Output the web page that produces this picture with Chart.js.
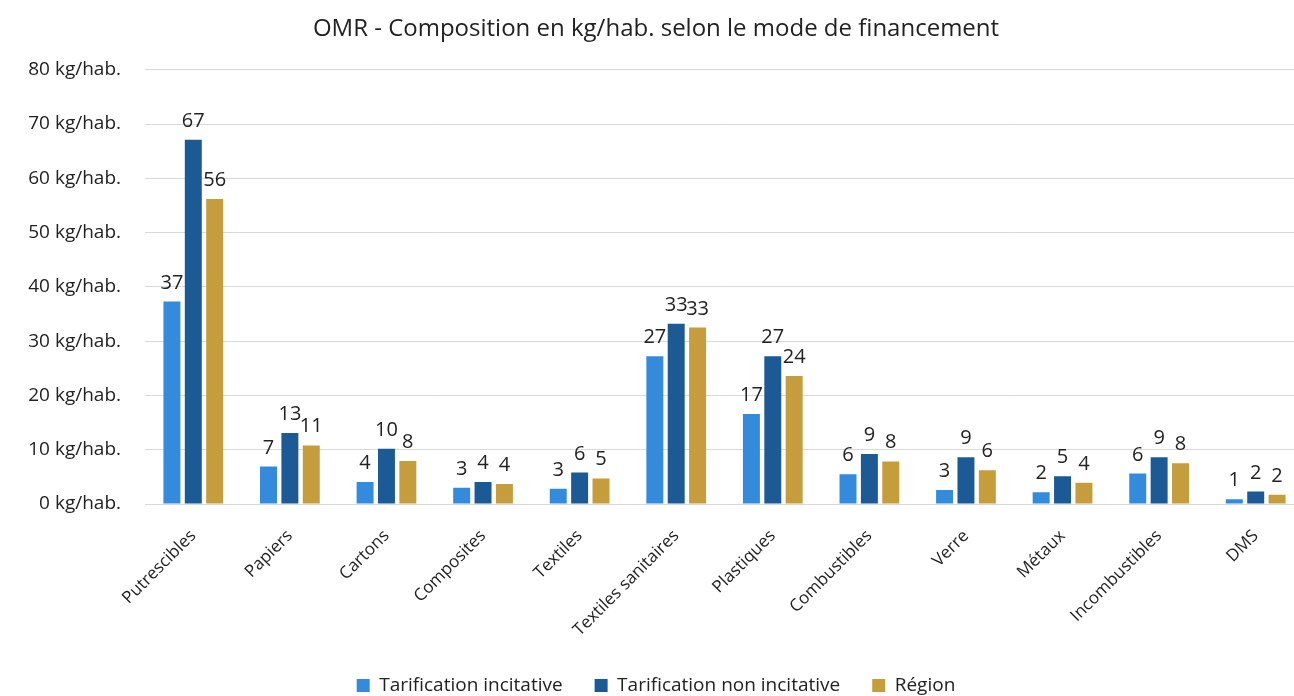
<!DOCTYPE html>
<html>
<head>
<meta charset="utf-8">
<script src="https://cdn.jsdelivr.net/npm/chart.js@4"></script>
<style>
  html, body { margin:0; padding:0; background:#fff; overflow:hidden; }
  #wrap { position:relative; width:1310px; height:696px; }
</style>
</head>
<body>
<div id="wrap"><canvas id="c" width="1310" height="696"></canvas></div>
<script>
const categories = ['Putrescibles','Papiers','Cartons','Composites','Textiles','Textiles sanitaires','Plastiques','Combustibles','Verre','Métaux','Incombustibles','DMS'];
const seriesNames = ['Tarification incitative','Tarification non incitative','Région'];
const incitative    = [37.3, 6.9, 4.05, 3.0, 2.8, 27.2, 16.6, 5.5, 2.6, 2.15, 5.6, 0.86];
const nonIncitative = [67.1, 13.1, 10.2, 4.05, 5.8, 33.2, 27.2, 9.2, 8.6, 5.1, 8.6, 2.3];
const region        = [56.2, 10.8, 7.9, 3.7, 4.7, 32.5, 23.6, 7.85, 6.2, 3.9, 7.5, 1.7];
const yTicks = [0,10,20,30,40,50,60,70,80];

const colors = ['#348BDC','#1C5A96','#C59D3C'];
const FONT = "'Open Sans'";
const TEXT = '#222222';

const labelPlugin = {
  id: 'barLabels',
  afterDatasetsDraw(chart) {
    const ctx = chart.ctx;
    ctx.save();
    ctx.font = '20px ' + FONT;
    ctx.fillStyle = TEXT;
    ctx.textAlign = 'center';
    ctx.textBaseline = 'alphabetic';
    chart.data.datasets.forEach((ds, i) => {
      const meta = chart.getDatasetMeta(i);
      meta.data.forEach((bar, j) => {
        ctx.fillText(String(Math.round(ds.data[j])), bar.x, bar.y - 13);
      });
    });
    ctx.restore();
  }
};

new Chart(document.getElementById('c'), {
  type: 'bar',
  data: {
    labels: categories,
    datasets: [
      { label: seriesNames[0], data: incitative, backgroundColor: colors[0] },
      { label: seriesNames[1], data: nonIncitative, backgroundColor: colors[1] },
      { label: seriesNames[2], data: region, backgroundColor: colors[2] }
    ]
  },
  options: {
    responsive: false,
    animation: false,
    layout: { padding: { left: 8, right: 6, top: 0, bottom: -9 } },
    datasets: { bar: { categoryPercentage: 0.664, barPercentage: 0.794 } },
    plugins: {
      title: {
        display: true,
        text: 'OMR - Composition en kg/hab. selon le mode de financement',
        color: TEXT,
        font: { family: FONT, size: 24, weight: 'normal' },
        padding: { top: 15, bottom: 26 }
      },
      legend: {
        position: 'bottom',
        labels: {
          color: TEXT,
          font: { family: FONT, size: 19 },
          boxWidth: 13, boxHeight: 13,
          padding: 32
        }
      },
      tooltip: { enabled: false }
    },
    scales: {
      x: {
        grid: { display: false },
        border: { color: '#d9d9d9' },
        ticks: {
          color: TEXT,
          font: { family: FONT, size: 17 },
          maxRotation: 45, minRotation: 45,
          autoSkip: false, padding: 14
        },
        afterFit: (s) => { s.height = 140; }
      },
      y: {
        min: 0, max: 80,
        afterBuildTicks: (s) => { s.ticks = yTicks.map(v => ({ value: v })); },
        grid: { color: '#d9d9d9', drawTicks: false, lineWidth: 1 },
        border: { display: false },
        ticks: {
          color: TEXT,
          font: { family: FONT, size: 19 },
          padding: 24,
          callback: (v) => v + ' kg/hab.'
        },
        afterFit: (s) => { s.width = 137; }
      }
    }
  },
  plugins: [labelPlugin]
});
</script>
</body>
</html>
